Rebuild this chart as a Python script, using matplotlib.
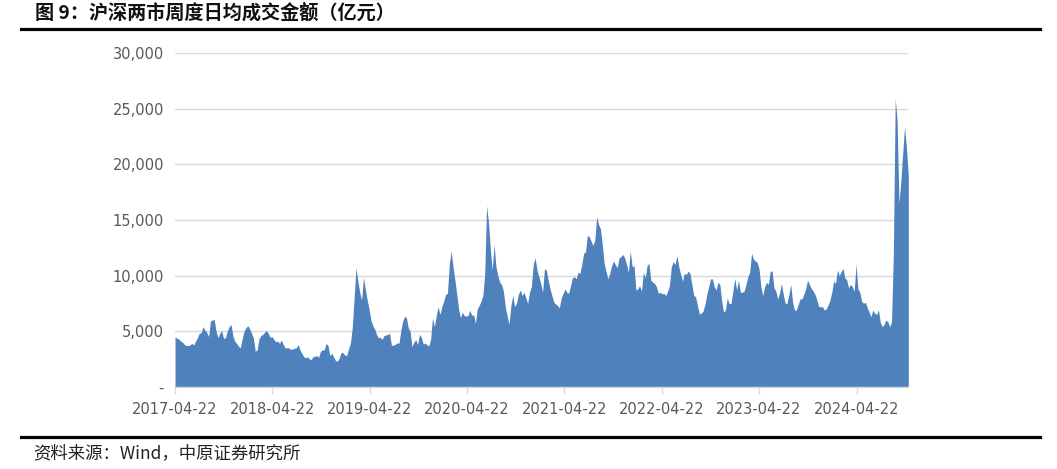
import matplotlib
matplotlib.use("Agg")
import matplotlib.pyplot as plt
import matplotlib.dates as mdates
from matplotlib.lines import Line2D
from matplotlib.ticker import FuncFormatter
import pandas as pd

plt.rcParams['font.family'] = ['Noto Sans CJK SC', 'DejaVu Sans']

# weekly average daily turnover, SH + SZ (100m yuan)
vals_y1 = [4500, 4350, 4300, 4100, 4000, 3800, 3700, 3700, 3750, 3900,
           3750, 4100, 4400, 4800, 4850, 5400, 5100, 4900, 4500, 5900,
           6000, 6050, 5000, 4400, 4800, 5050, 4350, 4400, 5000, 5400,
           5600, 4600, 4100, 3900, 3650, 3500, 4300, 5000, 5300, 5500,
           5200, 4800, 4400, 3200, 3300, 4300, 4600, 4700, 4900, 5050,
           4800, 4450]
vals_y2 = [4500, 4250, 4050, 4100, 3900, 4200, 3800, 3500, 3500, 3500,
           3350, 3400, 3450, 3500, 3800, 3300, 3000, 2700, 2600, 2700,
           2500, 2450, 2700, 2750, 2800, 2650, 3200, 3300, 3350, 3900,
           3700, 2800, 3000, 2700, 2350, 2300, 2550, 3100, 3050, 2850,
           2800, 3400, 3900, 5300, 8000, 10700, 9500, 8500, 7800, 9800,
           8800, 7800]
vals_y3 = [7000, 6000, 5500, 5200, 4700, 4400, 4450, 4250, 4600, 4650,
           4700, 4800, 3700, 3750, 3800, 3950, 3900, 5000, 5900, 6300,
           6250, 5300, 5000, 3600, 4000, 4250, 3800, 4700, 4450, 3850,
           3900, 3800, 3650, 4250, 6200, 5400, 6400, 7200, 6500, 7200,
           7700, 8300, 8400, 11000, 12200, 10800, 9600, 8300, 7000, 6200,
           6700, 6400]
vals_y4 = [6350, 6400, 6900, 6400, 6500, 5700, 7000, 7300, 7700, 8200,
           10200, 16300, 14800, 12400, 10500, 12800, 10800, 10000, 9400, 9200,
           8600, 7200, 6400, 5600, 7300, 8200, 7200, 7500, 8300, 8700,
           8200, 8500, 8000, 7500, 8500, 9000, 11000, 11600, 10500, 9900,
           9300, 8500, 10600, 10500, 9600, 8800, 8200, 7600, 7450, 7300,
           7100, 8000]
vals_y5 = [8400, 8800, 8500, 8400, 9100, 9800, 9900, 9700, 10300, 10200,
           11000, 12000, 12150, 13600, 13500, 13100, 12700, 13200, 15300, 14600,
           14200, 12800, 11100, 10400, 9700, 10200, 10900, 11300, 11000, 10700,
           11600, 11700, 11900, 11600, 11000, 10300, 12200, 10800, 10900, 8700,
           8800, 9100, 8600, 10300, 9800, 10900, 11100, 9600, 9400, 9300,
           9000, 8400]
vals_y6 = [8500, 8350, 8400, 8200, 8600, 9100, 10800, 11250, 11000, 11800,
           10800, 10100, 9500, 10200, 10100, 10400, 10200, 9200, 8200, 8100,
           7300, 6550, 6600, 6800, 7400, 8300, 9000, 9700, 9700, 9000,
           8700, 9400, 9200, 7700, 6700, 6900, 8000, 7450, 7500, 8600,
           9750, 8700, 9600, 8500, 8500, 8600, 9200, 9900, 10300, 12000,
           11500, 11300]
vals_y7 = [11200, 10600, 9000, 8200, 9000, 9400, 9200, 10400, 10400, 8900,
           8600, 7900, 8400, 9300, 8300, 7500, 7500, 8300, 9200, 7600,
           6900, 6900, 7400, 7900, 7900, 8300, 8800, 9600, 9200, 8850,
           8600, 8300, 7800, 7200, 7200, 7200, 6900, 7000, 7350, 7800,
           8500, 9500, 9300, 10500, 10000, 10350, 10650, 9800, 9600, 8900,
           9200, 9000]
vals_y8 = [8600, 11000, 8800, 8500, 7700, 7500, 7600, 7100, 6700, 6300,
           6900, 6600, 6500, 6900, 5800, 5400, 5600, 6000, 5850, 5400,
           5800, 12000, 25900, 24000, 16500, 18500, 21000, 23400, 21500, 19000]

values = vals_y1 + vals_y2 + vals_y3 + vals_y4 + vals_y5 + vals_y6 + vals_y7 + vals_y8
dates = pd.date_range('2017-04-22', periods=len(values), freq='7D')
tick_dates = pd.to_datetime(['2017-04-22', '2018-04-22', '2019-04-22', '2020-04-22',
                             '2021-04-22', '2022-04-22', '2023-04-22', '2024-04-22'])
y_ticks = [0, 5000, 10000, 15000, 20000, 25000, 30000]

W, H = 1057, 469
fig = plt.figure(figsize=(W / 100, H / 100), dpi=100)
ax = fig.add_axes([175 / W, 1 - 386.7 / H, (908.3 - 175) / W, (386.7 - 53.3) / H])

ax.fill_between(dates, values, 0, color='#4f81bd', linewidth=0, zorder=2)

ax.set_xlim(dates[0], dates[-1])
ax.set_ylim(0, 30000)
ax.set_yticks(y_ticks)
ax.yaxis.set_major_formatter(FuncFormatter(lambda v, p: '-' if v == 0 else f'{int(v):,}'))
ax.set_xticks(tick_dates)
ax.xaxis.set_major_formatter(mdates.DateFormatter('%Y-%m-%d'))

ax.grid(axis='y', color='#d9d9d9', linewidth=1.0, zorder=1)
for s in ['top', 'right', 'left']:
    ax.spines[s].set_visible(False)
ax.spines['bottom'].set_color('#d9d9d9')
ax.spines['bottom'].set_linewidth(1.0)
ax.spines['bottom'].set_zorder(3)

ax.tick_params(axis='y', length=0, pad=8, labelsize=10.5, labelcolor='#595959')
ax.tick_params(axis='x', length=5, width=1, color='#d9d9d9', direction='out', pad=6,
               labelsize=10.5, labelcolor='#595959')
for lab in ax.get_xticklabels() + ax.get_yticklabels():
    lab.set_family('DejaVu Sans')

# title, rules and source note
fig.text(35 / W, 1 - 12.5 / H, '图 9：沪深两市周度日均成交金额（亿元）', fontsize=13.8,
         fontweight='bold', va='center', ha='left', color='#111111')
fig.add_artist(Line2D([21 / W, 1040 / W], [1 - 29.5 / H, 1 - 29.5 / H],
                      color='black', linewidth=2.3, transform=fig.transFigure))
fig.add_artist(Line2D([21 / W, 1040 / W], [1 - 437 / H, 1 - 437 / H],
                      color='black', linewidth=2.3, transform=fig.transFigure))
fig.text(33 / W, 1 - 453 / H, '资料来源：Wind，中原证券研究所', fontsize=12.5,
         va='center', ha='left', color='#222222')

fig.savefig('out.png', dpi=100)
